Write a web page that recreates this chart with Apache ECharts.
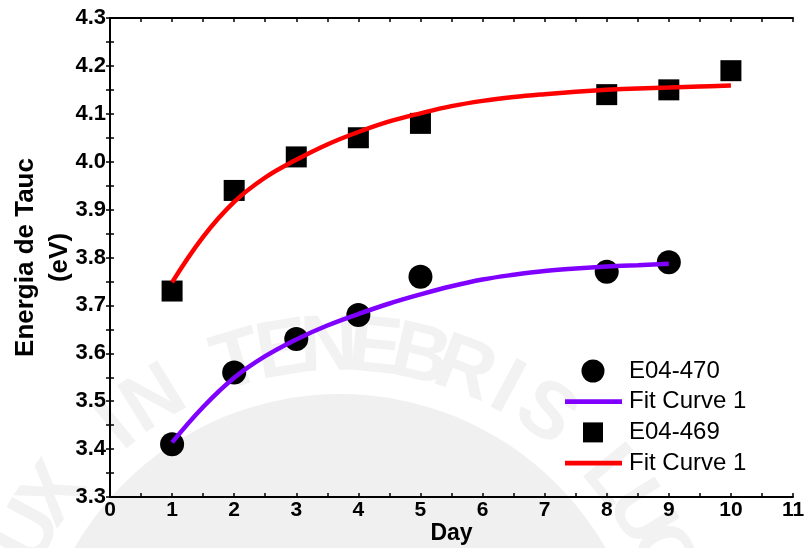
<!DOCTYPE html>
<html>
<head>
<meta charset="utf-8">
<script src="https://cdn.jsdelivr.net/npm/echarts@6/dist/echarts.min.js"></script>
<style>
  html, body { margin: 0; padding: 0; background: #fff; }
  #chart { width: 806px; height: 548px; }
</style>
</head>
<body>
<div id="chart"></div>
<script>
// Measured Tauc band-gap energies per day
const days470 = [1, 2, 3, 4, 5, 8, 9];
const tauc470 = [3.41, 3.56, 3.63, 3.68, 3.76, 3.77, 3.79];
const days469 = [1, 2, 3, 4, 5, 8, 9, 10];
const tauc469 = [3.73, 3.94, 4.01, 4.05, 4.08, 4.14, 4.15, 4.19];

// Fitted curves, sampled every half day
const fitDays470 = [1, 1.5, 2, 2.5, 3, 3.5, 4, 4.5, 5, 5.5, 6, 6.5, 7, 7.5, 8, 8.5, 9];
const fitTauc470 = [3.414, 3.488, 3.549, 3.594, 3.629, 3.658, 3.682, 3.704, 3.723, 3.740, 3.754, 3.764, 3.772, 3.777, 3.781, 3.784, 3.787];
const fitDays469 = [1, 1.5, 2, 2.5, 3, 3.5, 4, 4.5, 5, 5.5, 6, 6.5, 7, 7.5, 8, 8.5, 9, 9.5, 10];
const fitTauc469 = [3.748, 3.843, 3.916, 3.967, 4.004, 4.036, 4.062, 4.084, 4.101, 4.116, 4.127, 4.135, 4.141, 4.146, 4.150, 4.153, 4.155, 4.157, 4.159];

const legendNames = ['E04-470', 'Fit Curve 1', 'E04-469', 'Fit Curve 1'];
const sealText = 'LUX IN TENEBRIS LUCET';

const FONT = '"Liberation Sans", Arial, sans-serif';
const PURPLE = '#8000ff';
const RED = '#ff0000';

function pairs(xs, ys) { return xs.map((x, i) => [x, ys[i]]); }

// Faint university seal behind the plot
const sealCx = 340, sealCy = 700, sealR = 352;
const seal = [{
  type: 'circle', z: -10, silent: true,
  shape: { cx: sealCx, cy: sealCy, r: 306 },
  style: { fill: '#f0f0f0' }
}];
sealText.split('').forEach((ch, i) => {
  if (ch === ' ') return;
  const deg = -16.8 + 7.5 * (i - 7);
  const a = deg * Math.PI / 180;
  seal.push({
    type: 'text', z: -10, silent: true,
    x: sealCx + sealR * Math.sin(a),
    y: sealCy - sealR * Math.cos(a),
    rotation: -a,
    style: {
      text: ch, fill: '#f2f2f2',
      font: 'bold 80px ' + FONT,
      align: 'center', verticalAlign: 'middle'
    }
  });
});

// Legend block drawn by hand (two entries share the same name)
const legendItems = [];
const lx = 593, ly0 = 371, lstep = 30.7;
legendNames.forEach((name, i) => {
  const y = ly0 + i * lstep;
  if (i === 0) {
    legendItems.push({ type: 'circle', shape: { cx: lx, cy: y, r: 11.5 }, style: { fill: '#000' } });
  } else if (i === 2) {
    legendItems.push({ type: 'rect', shape: { x: lx - 10, y: y - 10, width: 20, height: 20 }, style: { fill: '#000' } });
  } else {
    legendItems.push({ type: 'rect', shape: { x: 565, y: y - 2.4, width: 57, height: 4.8 }, style: { fill: i === 1 ? PURPLE : RED } });
  }
  legendItems.push({
    type: 'text', x: 629, y: y,
    style: { text: name, fill: '#000', font: '24px ' + FONT, align: 'left', verticalAlign: 'middle' }
  });
});

const axisLine = { show: true, lineStyle: { color: '#000', width: 2 } };
const tick = { show: true, inside: true, length: 4, lineStyle: { color: '#000', width: 1.5 } };
const minorTick = { show: true, splitNumber: 2, length: 4, lineStyle: { color: '#000', width: 1.5 } };

const chart = echarts.init(document.getElementById('chart'), null, { renderer: 'canvas' });
chart.setOption({
  animation: false,
  backgroundColor: '#fff',
  grid: { left: 110, right: 13, top: 18, bottom: 51, containLabel: false, outerBoundsMode: 'none' },
  xAxis: [{
    type: 'value', position: 'bottom', min: 0, max: 11, interval: 1,
    axisLine, axisTick: tick, minorTick, splitLine: { show: false },
    axisLabel: { color: '#000', fontFamily: FONT, fontWeight: 'bold', fontSize: 21, margin: 3 },
    name: 'Day', nameLocation: 'middle', nameGap: 25, nameMoveOverlap: false,
    nameTextStyle: { color: '#000', fontFamily: FONT, fontWeight: 'bold', fontSize: 23, verticalAlign: 'top' }
  }, {
    type: 'value', position: 'top', min: 0, max: 11, interval: 1,
    axisLine, axisTick: tick, minorTick, splitLine: { show: false },
    axisLabel: { show: false }
  }],
  yAxis: [{
    type: 'value', position: 'left', min: 3.3, max: 4.3, interval: 0.1,
    axisLine, axisTick: tick, minorTick, splitLine: { show: false },
    axisLabel: {
      color: '#000', fontFamily: FONT, fontWeight: 'bold', fontSize: 22, margin: 4,
      formatter: v => v.toFixed(1)
    },
    name: 'Energia de Tauc\n(eV)', nameLocation: 'middle', nameRotate: 90, nameGap: 33, nameMoveOverlap: false,
    nameTextStyle: { color: '#000', fontFamily: FONT, fontWeight: 'bold', fontSize: 26, lineHeight: 34 }
  }, {
    type: 'value', position: 'right', min: 3.3, max: 4.3, interval: 0.1,
    axisLine, axisTick: tick, minorTick, splitLine: { show: false },
    axisLabel: { show: false }
  }],
  graphic: [
    { type: 'group', z: -10, silent: true, children: seal },
    { type: 'group', z: 100, children: legendItems }
  ],
  series: [
    {
      name: 'E04-470', type: 'scatter', z: 2, data: pairs(days470, tauc470),
      symbol: 'circle', symbolSize: 24, itemStyle: { color: '#000', opacity: 1 }
    },
    {
      name: 'E04-469', type: 'scatter', z: 2, data: pairs(days469, tauc469),
      symbol: 'rect', symbolSize: 21, itemStyle: { color: '#000', opacity: 1 }
    },
    {
      name: 'Fit Curve 1', type: 'line', z: 3, data: pairs(fitDays470, fitTauc470),
      showSymbol: false, symbol: 'none', smooth: 0.4,
      lineStyle: { color: PURPLE, width: 4.5 }
    },
    {
      name: 'Fit Curve 1 ', type: 'line', z: 3, data: pairs(fitDays469, fitTauc469),
      showSymbol: false, symbol: 'none', smooth: 0.4,
      lineStyle: { color: RED, width: 4.5 }
    }
  ]
});
</script>
</body>
</html>
